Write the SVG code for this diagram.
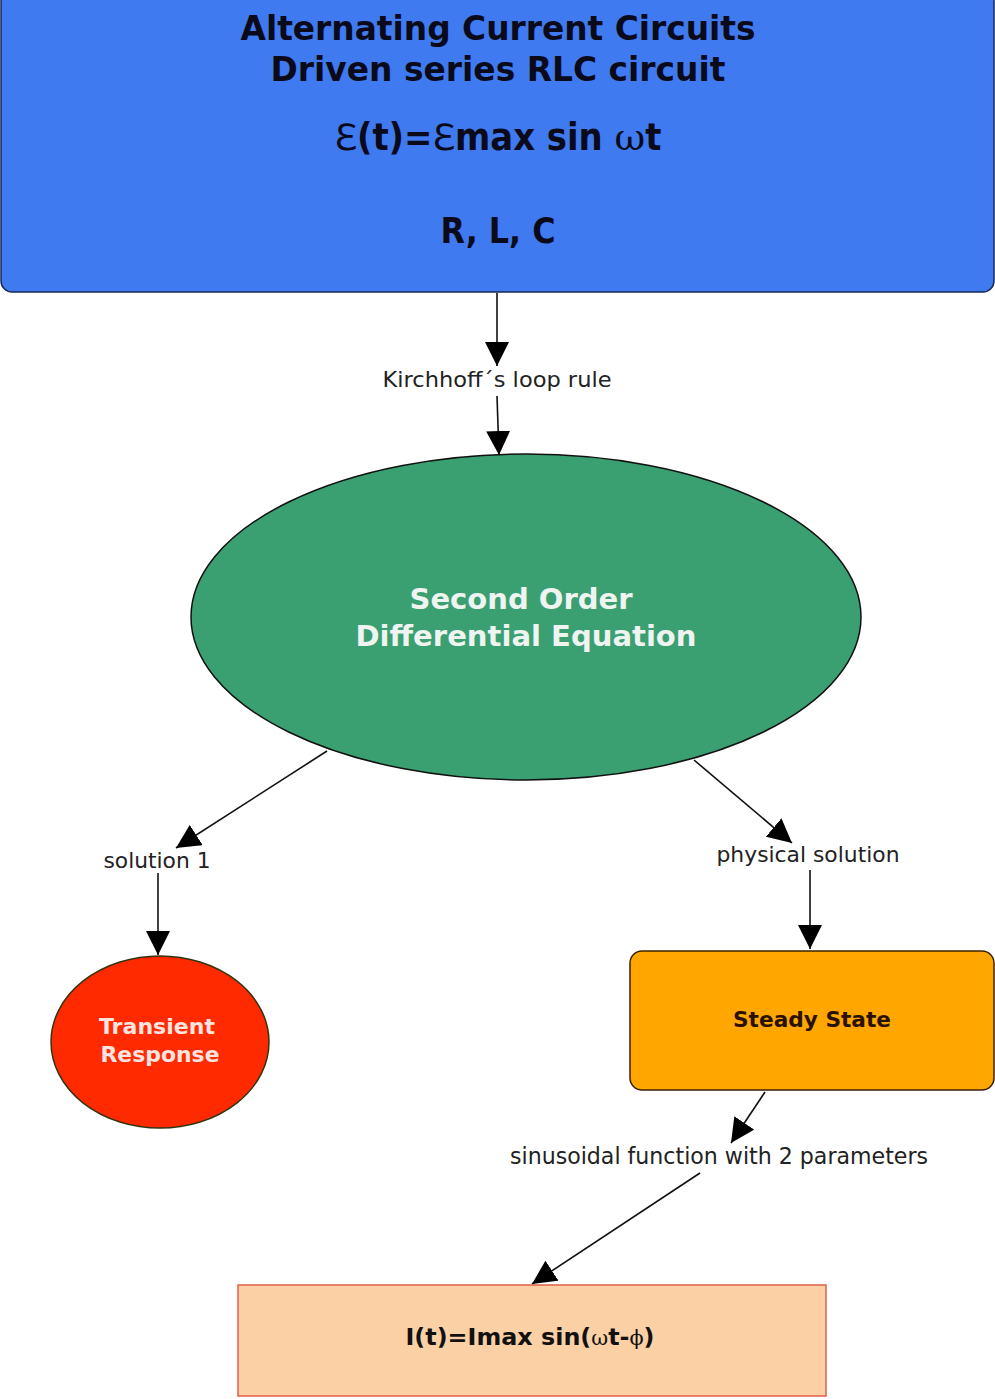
<svg xmlns="http://www.w3.org/2000/svg" width="995" height="1399" viewBox="0 0 995 1399">
<style>
.edge{stroke:#111;stroke-width:1.6;fill:none;marker-end:url(#ah)}
.lbl{font-family:"DejaVu Sans",Verdana,sans-serif;font-size:21px;fill:#222;text-anchor:middle}
.lblc{font-family:"DejaVu Sans Condensed","DejaVu Sans",sans-serif;font-size:23px;fill:#222;text-anchor:middle}
.hb{font-family:"DejaVu Sans Condensed","DejaVu Sans",sans-serif;font-weight:bold;fill:#0a0a1a;text-anchor:middle}
.nb{font-family:"DejaVu Sans",Verdana,sans-serif;font-weight:bold;text-anchor:middle}
.sym{font-family:"DejaVu Serif","Liberation Serif",serif;font-weight:normal}
</style>
<defs>
<marker id="ah" markerUnits="userSpaceOnUse" markerWidth="24" markerHeight="24" viewBox="0 0 20 20" refX="20" refY="10" orient="auto">
<path d="M0,0 L20,10 L0,20 Z" fill="#000"/>
</marker>
</defs>
<g id="connectors">
<line class="edge" x1="497" y1="293" x2="497" y2="366"/>
<line class="edge" x1="497" y1="396" x2="499" y2="455"/>
<line class="edge" x1="327" y1="751" x2="176" y2="848"/>
<line class="edge" x1="158" y1="873" x2="158" y2="955"/>
<line class="edge" x1="694" y1="760" x2="792" y2="843"/>
<line class="edge" x1="810" y1="870" x2="810" y2="949"/>
<line class="edge" x1="765" y1="1092" x2="731" y2="1143"/>
<line class="edge" x1="700" y1="1173" x2="532" y2="1284"/>
<text class="lbl" x="497" y="387" textLength="229" lengthAdjust="spacingAndGlyphs">Kirchhoff´s loop rule</text>
<text class="lbl" x="157" y="868" textLength="107" lengthAdjust="spacingAndGlyphs">solution 1</text>
<text class="lbl" x="808" y="862" textLength="183" lengthAdjust="spacingAndGlyphs">physical solution</text>
<text class="lblc" x="719" y="1164" textLength="418" lengthAdjust="spacingAndGlyphs">sinusoidal function with 2 parameters</text>
</g>
<g id="node-top">
<rect x="1" y="-10" width="993" height="302" rx="11" fill="#3f7af0" stroke="#1a2a55" stroke-width="1.5"/>
<text class="hb" x="498" y="40" font-size="34" textLength="515" lengthAdjust="spacingAndGlyphs">Alternating Current Circuits</text>
<text class="hb" x="498" y="81" font-size="34" textLength="455" lengthAdjust="spacingAndGlyphs">Driven series RLC circuit</text>
<text class="hb" x="498" y="150" font-size="37" textLength="327" lengthAdjust="spacingAndGlyphs"><tspan class="sym">ℇ</tspan>(t)=<tspan class="sym">ℇ</tspan>max sin <tspan class="sym">ω</tspan>t</text>
<text class="hb" x="498" y="243" font-size="35" textLength="115" lengthAdjust="spacingAndGlyphs">R, L, C</text>
</g>
<g id="node-ode">
<ellipse cx="526" cy="617" rx="335" ry="163" fill="#3aa072" stroke="#111" stroke-width="1.5"/>
<text class="nb" x="521" y="609" font-size="29" fill="#f0f4f0" textLength="223" lengthAdjust="spacingAndGlyphs">Second Order</text>
<text class="nb" x="526" y="646" font-size="29" fill="#f0f4f0" textLength="341" lengthAdjust="spacingAndGlyphs">Differential Equation</text>
</g>
<g id="node-transient">
<ellipse cx="160" cy="1042" rx="109" ry="86" fill="#ff2a00" stroke="#331" stroke-width="1.5"/>
<text class="nb" x="157" y="1034" font-size="22" fill="#ffe4e0" textLength="116" lengthAdjust="spacingAndGlyphs">Transient</text>
<text class="nb" x="160" y="1062" font-size="22" fill="#ffe4e0" textLength="119" lengthAdjust="spacingAndGlyphs">Response</text>
</g>
<g id="node-steady">
<rect x="630" y="951" width="364" height="139" rx="12" fill="#ffa600" stroke="#3a2200" stroke-width="1.5"/>
<text class="nb" x="812" y="1027" font-size="22" fill="#2a1200" textLength="158" lengthAdjust="spacingAndGlyphs">Steady State</text>
</g>
<g id="node-current">
<rect x="238" y="1285" width="588" height="111" fill="#fcd0a5" stroke="#e0604a" stroke-width="1.5"/>
<text class="nb" x="530" y="1345" font-size="23" fill="#111" textLength="249" lengthAdjust="spacingAndGlyphs">I(t)=Imax sin(<tspan class="sym" font-size="20">ω</tspan>t-<tspan class="sym" font-size="20">ϕ</tspan>)</text>
</g>
</svg>
